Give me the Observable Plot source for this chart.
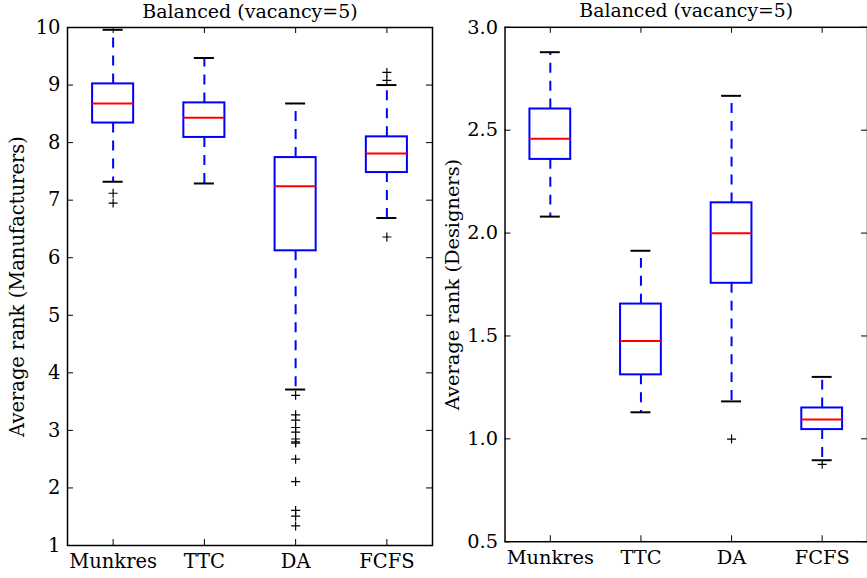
<!DOCTYPE html>
<html>
<head>
<meta charset="utf-8">
<script src="https://cdn.jsdelivr.net/npm/d3@7"></script>
<script src="https://cdn.jsdelivr.net/npm/@observablehq/plot@0.6"></script>
<style>
  html, body { margin: 0; padding: 0; background: #fff; overflow: hidden; }
  #wrap { position: relative; width: 867px; height: 578px; overflow: hidden; }
  #left, #right { position: absolute; top: 0; }
  #left { left: 0; }
  #right { left: 435px; }
</style>
</head>
<body>
<div id="wrap"><div id="left"></div><div id="right"></div></div>
<script>
const categories = ["Munkres", "TTC", "DA", "FCFS"];
const title = "Balanced (vacancy=5)";

// Manufacturers panel
const manuLow  = [7.32, 7.29, 3.71, 6.69];
const manuQ1   = [8.34, 8.09, 6.12, 7.48];
const manuMed  = [8.68, 8.43, 7.24, 7.81];
const manuQ3   = [9.02, 8.69, 7.74, 8.10];
const manuHigh = [9.96, 9.47, 8.68, 9.00];
const manuOutliers = [
  [7.12, 6.95],
  [],
  [3.61, 3.27, 3.18, 3.05, 2.97, 2.85, 2.80, 2.78, 2.50, 2.11, 1.61, 1.51, 1.34],
  [9.22, 9.08, 6.36]
];
const manuTicks = [1, 2, 3, 4, 5, 6, 7, 8, 9, 10];

// Designers panel
const desLow  = [2.080, 1.129, 1.182, 0.896];
const desQ1   = [2.358, 1.311, 1.756, 1.045];
const desMed  = [2.458, 1.476, 1.999, 1.094];
const desQ3   = [2.603, 1.655, 2.147, 1.150];
const desHigh = [2.879, 1.914, 2.667, 1.301];
const desOutliers = [[], [], [0.999], [0.876]];
const desTicks = [0.5, 1.0, 1.5, 2.0, 2.5, 3.0];

const FONT = "'DejaVu Serif', 'Liberation Serif', serif";
const plusSymbol = {
  draw(context, size) {
    const r = Math.sqrt(size / Math.PI);
    context.moveTo(-r, 0); context.lineTo(r, 0);
    context.moveTo(0, -r); context.lineTo(0, r);
  }
};

function panel({low, q1, med, q3, high, outliers, ticks, domain, label, fmt, marginLeft, width}) {
  const rows = categories.map((c, i) => ({x: i + 1, low: low[i], q1: q1[i], med: med[i], q3: q3[i], high: high[i]}));
  const outs = outliers.flatMap((arr, i) => arr.map(v => ({x: i + 1, y: v})));
  const marginTop = 27, marginBottom = 33, marginRight = width - marginLeft - 365;
  const pw = width - marginLeft - marginRight;
  const ph = 578 - marginTop - marginBottom;
  const hw = 0.225, cw = 0.11;
  return Plot.plot({
    width, height: 578,
    marginLeft, marginRight, marginTop, marginBottom,
    style: {fontFamily: FONT, fontSize: "19.5px", color: "#000", background: "transparent", overflow: "visible"},
    x: {domain: [0.5, 4.5]},
    y: {domain},
    marks: [
      // whiskers
      Plot.ruleX(rows, {x: "x", y1: "q3", y2: "high", stroke: "#0000ff", strokeWidth: 2, strokeDasharray: "10,8"}),
      Plot.ruleX(rows, {x: "x", y1: "q1", y2: "low", stroke: "#0000ff", strokeWidth: 2, strokeDasharray: "10,8"}),
      // caps
      Plot.ruleY(rows, {y: "high", x1: d => d.x - cw, x2: d => d.x + cw, stroke: "#000", strokeWidth: 2}),
      Plot.ruleY(rows, {y: "low", x1: d => d.x - cw, x2: d => d.x + cw, stroke: "#000", strokeWidth: 2}),
      // boxes
      Plot.rect(rows, {x1: d => d.x - hw, x2: d => d.x + hw, y1: "q1", y2: "q3", fill: "none", stroke: "#0000ff", strokeWidth: 2}),
      // medians
      Plot.ruleY(rows, {y: "med", x1: d => d.x - hw, x2: d => d.x + hw, stroke: "#ff0000", strokeWidth: 2}),
      // outliers
      Plot.dot(outs, {x: "x", y: "y", symbol: plusSymbol, r: 4.5, fill: "none", stroke: "#000", strokeWidth: 1.2}),
      // inward ticks
      Plot.tickY(ticks, {y: d => d, insetRight: pw - 6, stroke: "#000", strokeWidth: 1}),
      Plot.tickY(ticks, {y: d => d, insetLeft: pw - 6, stroke: "#000", strokeWidth: 1}),
      Plot.tickX([1, 2, 3, 4], {x: d => d, insetTop: ph - 6, stroke: "#000", strokeWidth: 1}),
      Plot.tickX([1, 2, 3, 4], {x: d => d, insetBottom: ph - 6, stroke: "#000", strokeWidth: 1}),
      Plot.axisY({ticks, tickFormat: fmt, tickSize: 0, tickPadding: 7, label, labelAnchor: "center", labelOffset: marginLeft - 10, labelArrow: false}),
      Plot.axisX({ticks: [1, 2, 3, 4], tickFormat: i => categories[i - 1], tickSize: 0, tickPadding: 9, label: null}),
      Plot.text([title], {frameAnchor: "top", lineAnchor: "middle", dy: -16, fontSize: 19, fill: "#000"}),
      Plot.frame({stroke: "#000", strokeWidth: 1.5})
    ]
  });
}

document.getElementById("left").appendChild(panel({
  low: manuLow, q1: manuQ1, med: manuMed, q3: manuQ3, high: manuHigh, outliers: manuOutliers,
  ticks: manuTicks, domain: [1, 10], label: "Average rank (Manufacturers)", fmt: d3.format("d"),
  marginLeft: 67, width: 435
}));
document.getElementById("right").appendChild(panel({
  low: desLow, q1: desQ1, med: desMed, q3: desQ3, high: desHigh, outliers: desOutliers,
  ticks: desTicks, domain: [0.5, 3.0], label: "Average rank (Designers)", fmt: d3.format(".1f"),
  marginLeft: 70, width: 435
}));
</script>
</body>
</html>
